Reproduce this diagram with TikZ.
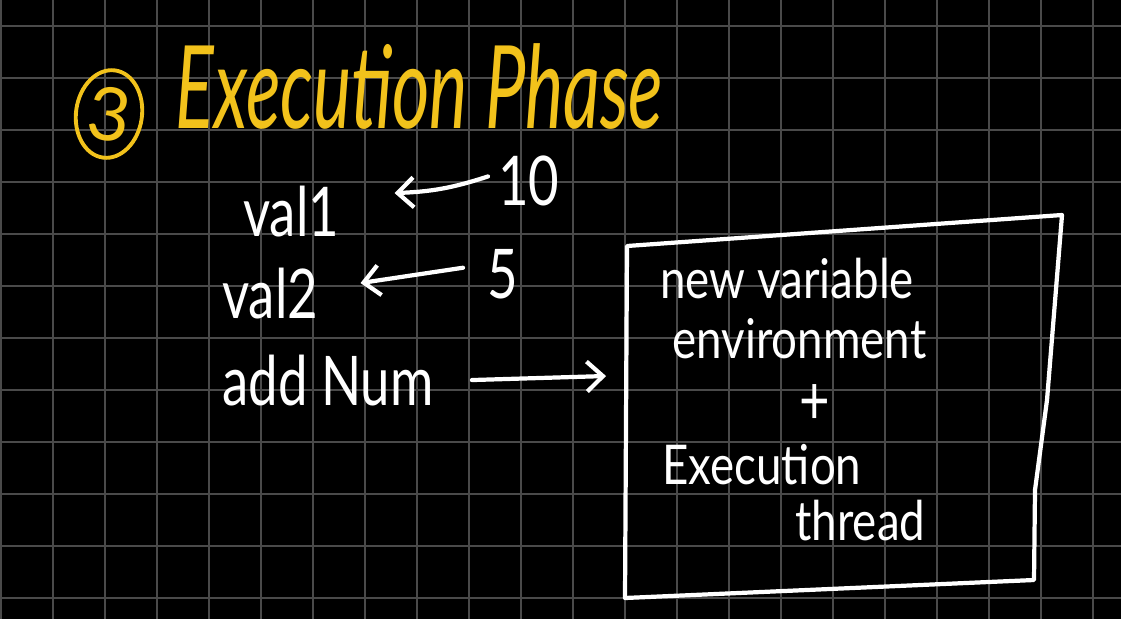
\documentclass[tikz,border=0pt]{standalone}
\usepackage{fontspec}
\setmainfont{Lato}
\usepackage{tikz}
\usetikzlibrary{arrows.meta,positioning,shapes.geometric,calc}
\definecolor{board}{HTML}{000000}
\definecolor{gridline}{HTML}{4A4A4A}
\definecolor{marker}{HTML}{F2C21B}
\definecolor{chalk}{HTML}{FFFFFF}
\tikzset{
  px/.style={x=0.02cm, y=-0.02cm},
  hand/.style={text=chalk, font=\fontsize{30}{32}\selectfont, yscale=1.3, inner sep=0pt},
  handsmall/.style={text=chalk, font=\fontsize{26}{28}\selectfont, yscale=1.2, inner sep=0pt},
  title/.style={text=marker, font=\fontsize{41}{43}\selectfont\itshape, yscale=1.6, inner sep=0pt},
  pen/.style={draw=chalk, line width=2.4pt, line cap=round, line join=round},
  assign/.style={pen, -{Straight Barb[length=3.2mm, width=6mm, line width=2.4pt]}}
}
\begin{document}
\begin{tikzpicture}[px]
  \fill[board] (0,0) rectangle (1121,619);
  \useasboundingbox (0,0) rectangle (1121,619);
  \foreach \gx in {1,53,...,1121}
    \draw[gridline, line width=1.1pt] (\gx,0) -- (\gx,619);
  \foreach \gy in {26,78,...,619}
    \draw[gridline, line width=1.1pt] (0,\gy) -- (1121,\gy);

  % heading
  \node[draw=marker, line width=2.2pt, ellipse, minimum width=66*0.02cm, minimum height=88*0.02cm,
        rotate=-8, text=marker, font=\fontsize{42}{44}\selectfont, inner sep=0pt] (step3) at (109,114) {3};
  \node[title, anchor=base west] (phase) at (175,128) {Execution Phase};

  % assignments
  \node[hand, anchor=base west] (val1) at (243,236) {val1};
  \node[hand, anchor=base west] (ten) at (498,205) {10};
  \node[hand, anchor=base west] (val2) at (222,318) {val2};
  \node[hand, anchor=base west] (five) at (487,298) {5};
  \node[hand, anchor=base west] (addnum) at (222,405) {add Num};

  \draw[assign] ($(ten.west)+(-10,-4)$) to[bend left=8] ($(val1.east)+(55,-18)$);
  \draw[assign] ($(five.west)+(-24,-6)$) -- ($(val2.east)+(42,-10)$);

  % execution context box
  \coordinate (bxNW) at (627,246);
  \coordinate (bxNE) at (1062,215);
  \coordinate (bxSE) at (1034,580);
  \coordinate (bxSW) at (625,598);
  \draw[pen] (bxNW) -- (bxNE) -- (1047,400) -- (1035,490) -- (bxSE) -- (bxSW) -- cycle;
  \coordinate (boxin) at (606,376);
  \draw[assign] ($(addnum.east)+(38,0)$) -- (boxin);

  \node[handsmall, anchor=base west] (newvar) at (660,298) {new variable};
  \node[handsmall, anchor=base west] (env) at (672,358) {environment};
  \node[hand] (plus) at (815,405) {+};
  \node[handsmall, anchor=base west] (exec) at (662,484) {Execution};
  \node[handsmall, anchor=base west] (thread) at (795,540) {thread};
\end{tikzpicture}
\end{document}
